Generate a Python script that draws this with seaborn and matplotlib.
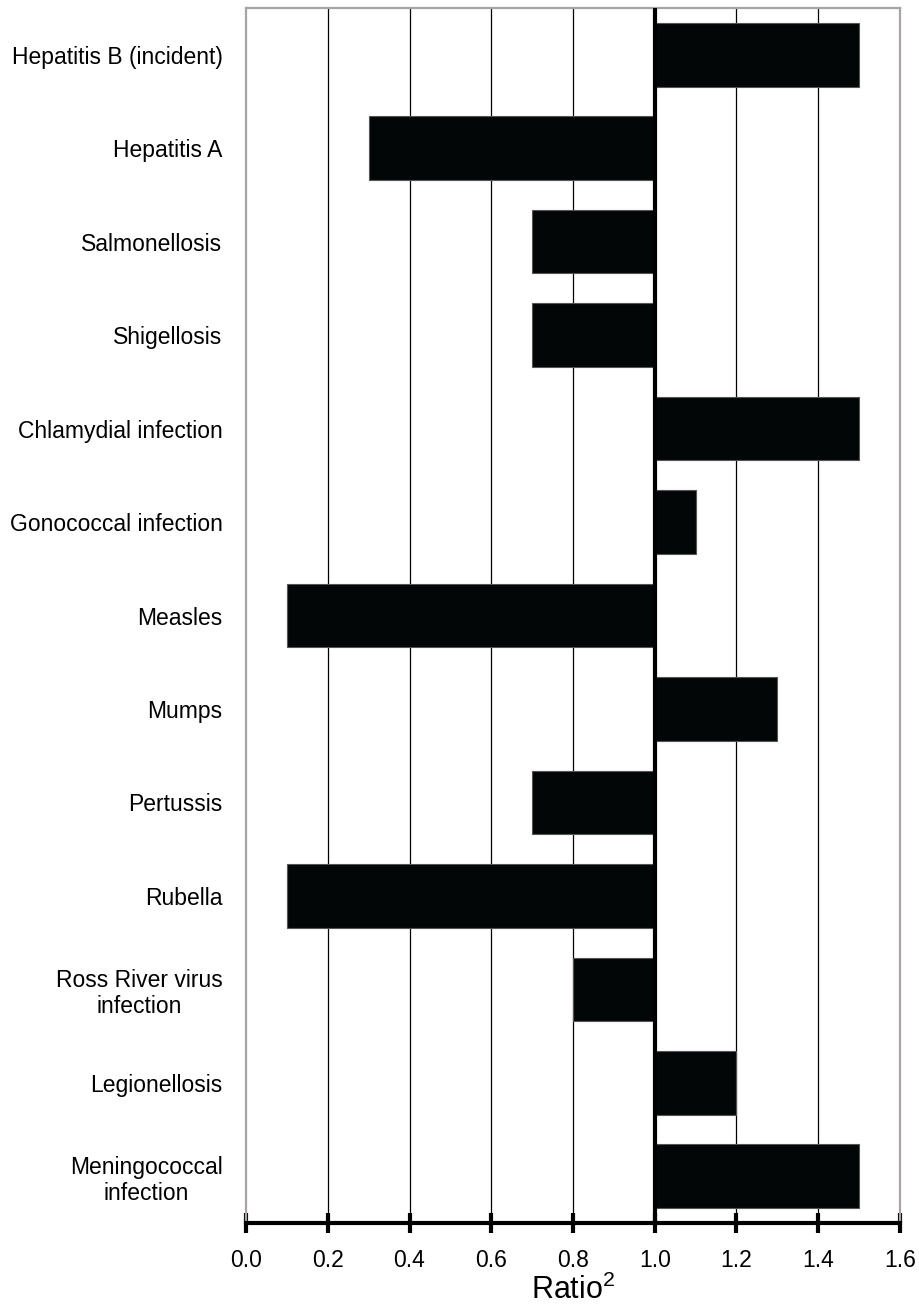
import seaborn as sns
import matplotlib.pyplot as plt

diseases = ["Hepatitis B (incident)", "Hepatitis A", "Salmonellosis", "Shigellosis",
            "Chlamydial infection", "Gonococcal infection", "Measles", "Mumps",
            "Pertussis", "Rubella", "Ross River virus\ninfection", "Legionellosis",
            "Meningococcal\ninfection"]
ratio = [1.5, 0.3, 0.7, 0.7, 1.5, 1.1, 0.1, 1.3, 0.7, 0.1, 0.8, 1.2, 1.5]
xticks = [0.0, 0.2, 0.4, 0.6, 0.8, 1.0, 1.2, 1.4, 1.6]
baseline = 1.0

sns.set_style("white")
plt.rcParams['font.family'] = ['Liberation Sans', 'DejaVu Sans']
plt.rcParams['mathtext.fontset'] = 'custom'
plt.rcParams['mathtext.rm'] = 'Liberation Sans'
plt.rcParams['mathtext.it'] = 'Liberation Sans'
plt.rcParams['text.color'] = 'black'
plt.rcParams['axes.labelcolor'] = 'black'
plt.rcParams['xtick.color'] = 'black'
plt.rcParams['ytick.color'] = 'black'

fig = plt.figure(figsize=(9.2, 13.1), dpi=100)
ax = fig.add_axes([246/920, 87/1310, 654/920, 1215/1310])

# vertical grid lines
for t in xticks[1:-1]:
    ax.axvline(t, color="black", lw=0.9, zorder=1)

pos = list(range(len(diseases)))
ax.barh(pos, [r - baseline for r in ratio], left=baseline, height=0.68,
        color="#030607", edgecolor="#555555", linewidth=0.8, zorder=2)
ax.axvline(baseline, color="black", lw=3, zorder=3)

ax.set_xlim(0, 1.6)
ax.set_ylim(len(diseases) - 0.5, -0.5)
ax.set_yticks(pos)
ax.set_yticklabels(diseases, fontsize=16.5, multialignment="center")
ax.set_xticks(xticks)
ax.set_xticklabels([f"{t:.1f}" for t in xticks], fontsize=16.5)
ax.tick_params(axis="y", left=False, length=0, pad=17)
ax.tick_params(axis="x", bottom=True, direction="inout", length=14, width=3,
               color="black", pad=12)

for s in ["left", "right", "top"]:
    ax.spines[s].set_color("#a8a4a4")
    ax.spines[s].set_linewidth(1.6)
ax.spines["bottom"].set_color("black")
ax.spines["bottom"].set_linewidth(3)
ax.spines["bottom"].set_zorder(4)

ax.set_xlabel("Ratio$^2$", fontsize=22, labelpad=2)

fig.savefig("out.png", dpi=100)
